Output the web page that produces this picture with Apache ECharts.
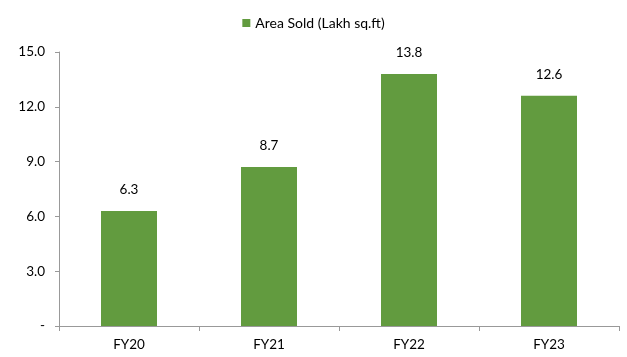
<!DOCTYPE html>
<html>
<head>
<meta charset="utf-8">
<script src="https://cdn.jsdelivr.net/npm/echarts@6/dist/echarts.min.js"></script>
<style>html,body{margin:0;padding:0;background:#fff}#c{width:627px;height:357px}</style>
</head>
<body>
<div id="c"></div>
<script>
var categories = ['FY20', 'FY21', 'FY22', 'FY23'];
var areaSold = [6.3, 8.7, 13.8, 12.6];
var seriesName = 'Area Sold (Lakh sq.ft)';
var yTicks = [0, 3, 6, 9, 12, 15];

var FONT = 'Lato, "Open Sans", sans-serif';
var chart = echarts.init(document.getElementById('c'), null, {renderer: 'canvas'});
chart.setOption({
  animation: false,
  legend: {
    top: 11, left: 'center',
    itemWidth: 8, itemHeight: 8, itemGap: 5,
    icon: 'rect',
    textStyle: {fontFamily: FONT, fontSize: 14, color: '#000'},
    data: [seriesName]
  },
  grid: {left: 59, right: 8, top: 52, bottom: 31, containLabel: false},
  xAxis: {
    type: 'category', data: categories,
    axisLine: {lineStyle: {color: '#999', width: 1}},
    axisTick: {show: true, length: 5, alignWithLabel: false, lineStyle: {color: '#999'}},
    axisLabel: {fontFamily: FONT, fontSize: 13.5, color: '#000', margin: 12}
  },
  yAxis: {
    type: 'value', min: 0, max: 15, interval: 3,
    splitLine: {show: false},
    axisLine: {show: true, lineStyle: {color: '#999', width: 1}},
    axisTick: {show: true, length: 4, lineStyle: {color: '#999'}},
    axisLabel: {
      fontFamily: FONT, fontSize: 13.5, color: '#000', margin: 14,
      formatter: function (v) { return v === 0 ? '-' : v.toFixed(1); }
    }
  },
  series: [{
    name: seriesName, type: 'bar', data: areaSold,
    barWidth: '40%',
    itemStyle: {color: '#629B3F'},
    label: {
      show: true, position: 'top', distance: 14,
      fontFamily: FONT, fontSize: 13.5, color: '#000',
      formatter: function (p) { return p.value.toFixed(1); }
    }
  }]
});
</script>
</body>
</html>
